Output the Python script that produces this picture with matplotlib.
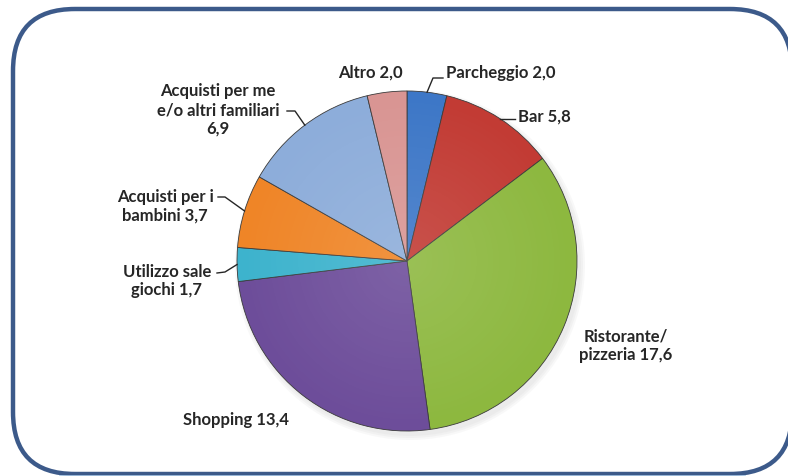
import numpy as np
import matplotlib
matplotlib.use("Agg")
import matplotlib.pyplot as plt
from matplotlib.patches import FancyBboxPatch, Circle

labels = ["Parcheggio 2,0", "Bar 5,8", "Ristorante/\npizzeria 17,6", "Shopping 13,4",
          "Utilizzo sale\ngiochi 1,7", "Acquisti per i\nbambini 3,7",
          "Acquisti per me\ne/o altri familiari\n6,9", "Altro 2,0"]
values = [2.0, 5.8, 17.6, 13.4, 1.7, 3.7, 6.9, 2.0]
colors = ["#3D77C7", "#C23B34", "#8DB83F", "#6D4D9A", "#3DB3CD", "#EF8527", "#8DADDA", "#D99593"]

W, H = 788, 477
fig = plt.figure(figsize=(W / 100, H / 100), dpi=100)
ax = fig.add_axes([0, 0, 1, 1])

def py(y):
    return H - y

cx, cy, R = 407, 262, 170

# border
box = FancyBboxPatch((13, py(475)), 779, 465, boxstyle="round,pad=0,rounding_size=62",
                     fc="white", ec="#3C5A8A", lw=3.2, zorder=0)
ax.add_patch(box)
ax.plot([60, 745], [py(476.5), py(476.5)], color="#A9C8E6", lw=1.2, zorder=0)

# shadow
for i in range(3):
    ax.add_patch(Circle((cx + 3, py(cy + 4)), R + 1 + i * 2, fc="#808080", ec="none", alpha=0.05, zorder=1))

wedges, _ = ax.pie(values, colors=colors, startangle=90, counterclock=False,
                   center=(cx, py(cy)), radius=R, frame=True,
                   wedgeprops=dict(edgecolor="#3a3a3a", linewidth=0.6))
for w in wedges:
    w.set_zorder(2)

# subtle shading overlay
yy, xx = np.mgrid[-1:1:300j, -1:1:300j]
rr = np.sqrt(xx ** 2 + yy ** 2)
shade = np.zeros((300, 300, 4))
shade[..., :3] = 1.0
shade[..., 3] = np.clip(0.12 * (1 - rr), 0, 1)
im = ax.imshow(shade, extent=(cx - R, cx + R, py(cy) - R, py(cy) + R), zorder=3, origin="lower")
im.set_clip_path(Circle((cx, py(cy)), R, transform=ax.transData))

ax.set_xlim(0, W)
ax.set_ylim(0, H)
ax.set_aspect("auto")
ax.axis("off")

fs = 12
tc = "#262626"
fam = ["Lato", "DejaVu Sans"]
kw = dict(fontsize=fs, color=tc, fontweight="bold", family=fam, linespacing=1.2, zorder=5)

text_pos = [(446, 73, "left"), (518, 117, "left"), (626, 346, "center"), (236, 420, "center"),
            (167, 281, "center"), (165, 206, "center"), (218, 110, "center"), (370, 73, "center")]
for lab, (x, y, ha) in zip(labels, text_pos):
    ax.text(x, py(y), lab, ha=ha, va="center", multialignment="center", **kw)

# leader lines from wedge mid-angles
cum = np.cumsum([0] + values)
tot = cum[-1]
def edge(i):
    a = np.deg2rad(90 - 360 * (cum[i] + values[i] / 2) / tot)
    return cx + R * np.cos(a), cy - R * np.sin(a)

leaders = {0: [(433, 79), (443, 79)], 1: [(515, None)],
           4: [(225, 273), (217, 274)], 5: [(225, 198), (218, 198)],
           6: [(295, 112), (287, 112)]}
for i, pts in leaders.items():
    ex, ey = edge(i)
    xs, ys = [ex], [ey]
    for (x, y) in pts:
        xs.append(x)
        ys.append(ey if y is None else y)
    ax.plot(xs, [py(v) for v in ys], color="#262626", lw=1.0, zorder=5)

fig.savefig("out.png", dpi=100)
